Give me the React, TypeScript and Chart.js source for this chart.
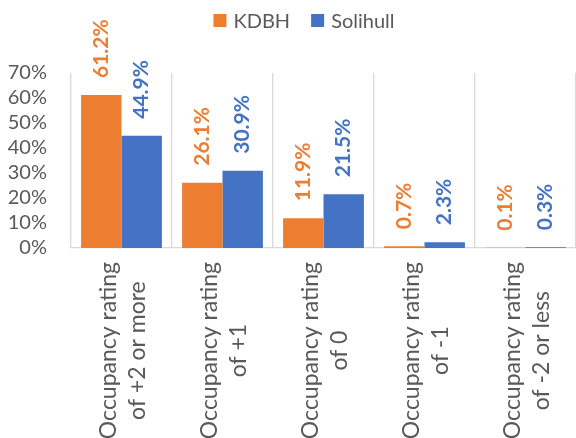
import React, { useEffect, useRef } from "react";
import { Chart, registerables } from "chart.js";

Chart.register(...registerables);

const categories: string[][] = [
  ["Occupancy rating", "of +2 or more"],
  ["Occupancy rating", "of +1"],
  ["Occupancy rating", "of 0"],
  ["Occupancy rating", "of -1"],
  ["Occupancy rating", "of -2 or less"],
];
const seriesNames = ["KDBH", "Solihull"];
const kdbh = [61.2, 26.1, 11.9, 0.7, 0.1];
const solihull = [44.9, 30.9, 21.5, 2.3, 0.3];
const yTicks = [0, 10, 20, 30, 40, 50, 60, 70];

const ORANGE = "#ED7D31";
const BLUE = "#4472C4";
const TEXT = "#595959";
const GRID = "#D9D9D9";
const FONT = "Lato, 'Open Sans', sans-serif";

const customDraw = {
  id: "customDraw",
  afterDatasetsDraw(chart: any) {
    const ctx = chart.ctx;
    chart.data.datasets.forEach((ds: any, di: number) => {
      const meta = chart.getDatasetMeta(di);
      meta.data.forEach((bar: any, i: number) => {
        const v = ds.data[i];
        ctx.save();
        ctx.translate(bar.x, bar.y - 17);
        ctx.rotate(-Math.PI / 2);
        ctx.font = `bold 21px ${FONT}`;
        ctx.fillStyle = ds.backgroundColor;
        ctx.textAlign = "left";
        ctx.textBaseline = "middle";
        ctx.fillText(v.toFixed(1) + "%", 0, 0);
        ctx.restore();
      });
    });
  },
  afterDraw(chart: any) {
    const ctx = chart.ctx;
    const xScale = chart.scales.x;
    const area = chart.chartArea;
    ctx.save();
    ctx.font = `23px ${FONT}`;
    ctx.fillStyle = TEXT;
    ctx.textAlign = "center";
    ctx.textBaseline = "middle";
    categories.forEach((lines, i) => {
      const cx = xScale.getPixelForValue(i);
      const maxW = Math.max(...lines.map((l) => ctx.measureText(l).width));
      const cy = area.bottom + 14 + maxW / 2;
      ctx.save();
      ctx.translate(cx + 1.5, cy);
      ctx.rotate(-Math.PI / 2);
      lines.forEach((l, li) => {
        ctx.fillText(l, 0, (li - (lines.length - 1) / 2) * 29);
      });
      ctx.restore();
    });
    ctx.restore();
    ctx.save();
    ctx.font = `20px ${FONT}`;
    ctx.textBaseline = "middle";
    ctx.textAlign = "left";
    const box = 13;
    const gapText = 7;
    const gapItem = 21;
    const colors = [ORANGE, BLUE];
    const widths = seriesNames.map((n) => box + gapText + ctx.measureText(n).width);
    const total = widths.reduce((a, b) => a + b, 0) + gapItem * (widths.length - 1);
    let x = 304 - total / 2;
    const cyL = 20.5;
    seriesNames.forEach((n, i) => {
      ctx.fillStyle = colors[i];
      ctx.fillRect(x, cyL - box / 2, box, box);
      ctx.fillStyle = TEXT;
      ctx.fillText(n, x + box + gapText, cyL + 1);
      x += widths[i] + gapItem;
    });
    ctx.restore();
  },
};

export default function App() {
  const ref = useRef<HTMLCanvasElement>(null);
  useEffect(() => {
    if (!ref.current) return;
    const chart = new Chart(ref.current, {
      type: "bar",
      data: {
        labels: categories.map((c) => c.join(" ")),
        datasets: [
          {
            label: seriesNames[0],
            data: kdbh,
            backgroundColor: ORANGE,
            categoryPercentage: 0.8,
            barPercentage: 1.0,
          },
          {
            label: seriesNames[1],
            data: solihull,
            backgroundColor: BLUE,
            categoryPercentage: 0.8,
            barPercentage: 1.0,
          },
        ],
      },
      options: {
        responsive: false,
        animation: false,
        layout: { padding: { top: 73, bottom: 190, left: 0, right: 0 } },
        plugins: {
          legend: { display: false },
          tooltip: { enabled: false },
        },
        scales: {
          x: {
            offset: true,
            grid: { display: true, offset: true, color: GRID, drawTicks: false, lineWidth: 1.3 },
            border: { display: true, color: GRID, width: 1.3 },
            ticks: { display: false },
          },
          y: {
            min: 0,
            max: 70,
            afterBuildTicks: (scale: any) => {
              scale.ticks = yTicks.map((v) => ({ value: v }));
            },
            afterFit: (scale: any) => {
              scale.width = 71;
            },
            grid: { display: false, drawTicks: false },
            border: { display: false },
            ticks: {
              autoSkip: false,
              padding: 24,
              color: TEXT,
              font: { family: FONT, size: 20 },
              callback: (v: any) => v + "%",
            },
          },
        },
      },
      plugins: [customDraw],
    });
    return () => chart.destroy();
  }, []);
  return (
    <div style={{ position: "fixed", left: 0, top: 0, width: 576, height: 438, background: "#fff" }}>
      <canvas ref={ref} width={576} height={438} style={{ display: "block" }} />
    </div>
  );
}
